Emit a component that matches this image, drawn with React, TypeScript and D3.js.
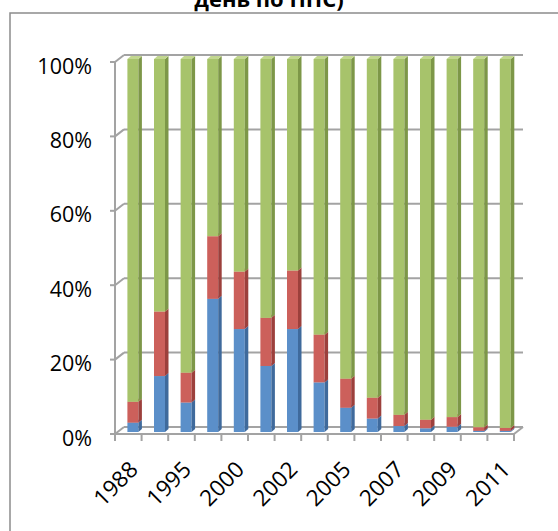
import React from "react";
import * as d3 from "d3";

const categories = ["1988","1993","1995","1998","2000","2001","2002","2003","2005","2006","2007","2008","2009","2010","2011"];
const seriesBlue = [2.5, 15.0, 7.9, 35.7, 27.6, 17.7, 27.6, 13.3, 6.5, 3.6, 1.6, 1.0, 1.4, 0.3, 0.3];
const seriesRed = [5.6, 17.3, 8.0, 16.8, 15.4, 12.9, 15.7, 12.8, 7.8, 5.6, 3.0, 2.3, 2.6, 1.0, 0.8];
const seriesGreen = [91.9, 67.7, 84.1, 47.5, 57.0, 69.4, 56.7, 73.9, 85.7, 90.8, 95.4, 96.7, 96.0, 98.7, 98.9];
const yTicks = [0, 0.2, 0.4, 0.6, 0.8, 1.0];
const titleLine = "день по ППС)";

const keys = ["blue", "red", "green"];
const faceColors: Record<string, { front: string; side: string; top: string }> = {
  blue: { front: "#5B8FC9", side: "#3F6A9C", top: "#86AEDC" },
  red: { front: "#CC605B", side: "#9C403C", top: "#DE8A85" },
  green: { front: "#A7C36B", side: "#7D9748", top: "#C2D78F" },
};

const FONT = "'Open Sans', 'Liberation Sans', sans-serif";

export default function App() {
  const rows = categories.map((c, i) => ({
    cat: c,
    blue: seriesBlue[i],
    red: seriesRed[i],
    green: seriesGreen[i],
  }));
  const stacked = d3.stack<any>().keys(keys).offset(d3.stackOffsetExpand)(rows);

  const x = d3.scaleBand().domain(categories).range([115, 514]).paddingInner(0).paddingOuter(0);
  const yFront = d3.scaleLinear().domain([0, 1]).range([434, 62]);
  const yBar = d3.scaleLinear().domain([0, 1]).range([432, 59]);
  const depthX = 9;
  const depthY = -7;
  const barW = 11;
  const barShift = 4.6;
  const sideX = 3.5;
  const sideY = -3;

  const x0 = x.range()[0];
  const x1 = x.range()[1];
  const grid = "#A3A3A3";

  return (
    <svg width={558} height={531} style={{ position: "absolute", left: 0, top: 0, background: "#fff" }}>
      <rect x={10} y={13} width={560} height={540} fill="#fff" stroke="#8C8C8C" strokeWidth={1.5} />
      <text x={269} y={7} textAnchor="middle" fontFamily={FONT} fontWeight="bold" fontSize={22} fill="#000">
        {titleLine}
      </text>

      {yTicks.map((t) => {
        const yf = yFront(t);
        return (
          <g key={t}>
            <line x1={x0 - 5} x2={x0} y1={yf} y2={yf} stroke={grid} strokeWidth={2} />
            <line x1={x0} y1={yf} x2={x0 + depthX} y2={yf + depthY} stroke={grid} strokeWidth={2} />
            <line x1={x0 + depthX} y1={yf + depthY} x2={x1 + depthX} y2={yf + depthY} stroke={grid} strokeWidth={2} />
            <text
              x={92}
              y={yf + 3}
              textAnchor="end"
              dominantBaseline="central"
              fontFamily={FONT}
              fontSize={21.5}
              fill="#000"
            >
              {d3.format(".0%")(t)}
            </text>
          </g>
        );
      })}
      <line x1={x0} x2={x0} y1={yFront(0)} y2={yFront(1)} stroke={grid} strokeWidth={2} />
      <line x1={x0} x2={x1} y1={yFront(0)} y2={yFront(0)} stroke={grid} strokeWidth={2} />
      <line x1={x1} y1={yFront(0)} x2={x1 + depthX} y2={yFront(0) + depthY} stroke={grid} strokeWidth={2} />
      {d3.range(categories.length + 1).map((i) => {
        const tx = x0 + i * x.bandwidth();
        return <line key={i} x1={tx} x2={tx} y1={yFront(0)} y2={yFront(0) + 7} stroke={grid} strokeWidth={2} />;
      })}

      {categories.map((c, i) => {
        const cx = (x(c) as number) + x.bandwidth() / 2 + barShift;
        const bx0 = cx - barW / 2;
        const bx1 = cx + barW / 2;
        return (
          <g key={c}>
            {stacked.map((s) => {
              const d = s[i];
              const yb = yBar(d[0]);
              const yt = yBar(d[1]);
              const col = faceColors[s.key];
              if (d[1] - d[0] <= 0) return null;
              return (
                <g key={s.key}>
                  <rect x={bx0} y={yt} width={barW} height={yb - yt} fill={col.front} />
                  <polygon
                    points={`${bx1},${yt} ${bx1 + sideX},${yt + sideY} ${bx1 + sideX},${yb + sideY} ${bx1},${yb}`}
                    fill={col.side}
                  />
                  <polygon
                    points={`${bx0},${yt} ${bx0 + sideX},${yt + sideY} ${bx1 + sideX},${yt + sideY} ${bx1},${yt}`}
                    fill={col.top}
                  />
                </g>
              );
            })}
          </g>
        );
      })}

      {categories.map((c, i) => {
        if (i % 2 !== 0) return null;
        const ax = (x(c) as number) + x.bandwidth() / 2 + 5;
        const ay = 465;
        return (
          <text
            key={c}
            x={ax}
            y={ay}
            transform={`rotate(-45 ${ax} ${ay})`}
            textAnchor="end"
            dominantBaseline="central"
            fontFamily={FONT}
            fontSize={22.5}
            fill="#000"
          >
            {c}
          </text>
        );
      })}
    </svg>
  );
}
